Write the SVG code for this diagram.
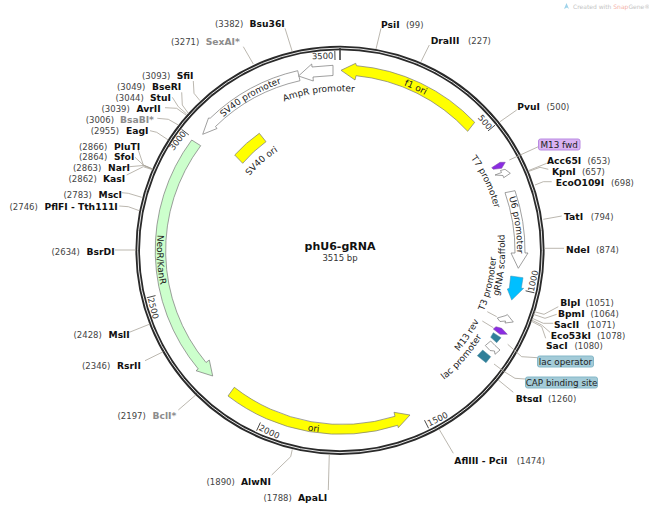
<svg xmlns="http://www.w3.org/2000/svg" width="649" height="509" viewBox="0 0 649 509">
<style>
text{font-family:"DejaVu Sans","Liberation Sans",sans-serif;font-size:9px;fill:#222}
.n{fill:#444;font-size:8.5px}
.b{font-weight:bold;font-size:9.2px;fill:#111}
.g{font-weight:bold;font-size:9.2px;fill:#8c8c8c}
.t{font-size:8.5px;fill:#333;text-anchor:middle}
.f{stroke:#777;stroke-width:.7}
.w{fill:#fff}
.y{fill:#ffff00}
.gr{fill:#ccffcc}
.p{fill:#8a2be2;stroke:#7a4ba0;stroke-width:.5}
.c{fill:#2f7f99;stroke:#4a8aa0;stroke-width:.5}
.l{fill:none;stroke:#aaa49a;stroke-width:.8}
.k{fill:none;stroke:#333;stroke-width:.9}
.fb{text-anchor:middle;font-size:8.8px;fill:#222}
.lp{fill:#d9b3f2;stroke:#b98ae2;stroke-width:1}
.lt{fill:#a3cbd8;stroke:#86b8c8;stroke-width:1}
</style>
<defs>
<path id="a177" d="M186.700 161.800A177 177 0 0 1 493.300 161.800"/>
<path id="a159" d="M202.300 170.800A159 159 0 0 1 477.700 170.800"/>
<path id="a117" d="M238.700 191.800A117 117 0 0 1 441.300 191.800"/>
<path id="a160" d="M201.400 170.300A160 160 0 0 1 478.600 170.300"/>
<path id="b183" d="M181.500 341.800A183 183 0 0 0 498.500 341.800"/>
<path id="b165" d="M197.100 332.800A165 165 0 0 0 482.900 332.800"/>
<path id="b156" d="M204.900 328.300A156 156 0 0 0 475.100 328.300"/>
<path id="b166" d="M196.200 333.300A166 166 0 0 0 483.800 333.300"/>
</defs>

<g id="credit">
<path d="M564 9L566.500 3L569 9L567 7.500Z" fill="#9fd3ea"/>
<text x="573" y="8.500" style="font-size:6px;fill:#c4c4c4">Created with <tspan fill="#f4b0a8">Snap</tspan>Gene®</text>
</g>

<g id="backbone">
<circle cx="340" cy="250.300" r="202.300" fill="none" stroke="#2a2a2a" stroke-width="4.600"/>
<circle cx="340" cy="250.300" r="202.300" fill="none" stroke="#fff" stroke-width=".9"/>
<g class="k">
<path d="M488 130.900L495 125.200M525.600 290.800L534.400 292.800M424.500 420.200L428.600 428.300M260.400 422.500L256.600 430.700M155.500 295.600L146.800 297.800M188.800 134.900L181.600 129.400M335 60L334.800 51"/>
</g>
<path d="M340 48V60" stroke="#333" stroke-width="1.500"/>
<text class="t" transform="translate(482.700,124) rotate(51.200)">500</text>
<text class="t" transform="translate(536,281.500) rotate(-77.600)">1000</text>
<text class="t" transform="translate(439,421.700) rotate(-26.400)">1500</text>
<text class="t" transform="translate(268,434.400) rotate(24.800)">2000</text>
<text class="t" transform="translate(150.400,309) rotate(76.100)">2500</text>
<text class="t" transform="translate(180,142.500) rotate(-52.700)">3000</text>
<text class="t" transform="translate(322.700,59) rotate(-1.500)">3500</text>
</g>

<g id="connectors">
<path class="l" d="M285 28.300L292.300 51.700"/>
<path class="l" d="M243.300 46.700L253.300 64"/>
<path class="l" d="M193.300 81L194 93.300L200 100.700"/>
<path class="l" d="M181.700 92.300L182.300 105L188.300 113.300"/>
<path class="l" d="M172.300 97.300L178.300 106.700L186.700 114"/>
<path class="l" d="M165 107.700L176.700 108.300L186 115"/>
<path class="l" d="M157.300 118.300L168.300 119.300L178.300 125"/>
<path class="l" d="M150 130.700L156.700 132.300L168.300 140"/>
<path class="l" d="M138.300 150L143.300 165L152.700 169"/>
<path class="l" d="M135 157.300L143.300 165L152.300 169"/>
<path class="l" d="M129.300 166.700L143.300 165.500L152.300 169"/>
<path class="l" d="M126.700 175L143.300 166.700L152 169.500"/>
<path class="l" d="M121.700 192.700L128.300 193.300L141.700 197.300"/>
<path class="l" d="M119.300 206L128.300 206.700L139.300 210.700"/>
<path class="l" d="M115 250H136"/>
<path class="l" d="M129.300 332.300L150 324"/>
<path class="l" d="M145 360.700L163.300 351.700"/>
<path class="l" d="M178.300 410L195.700 395"/>
<path class="l" d="M271.700 475L290.700 456.700L292.300 449.300"/>
<path class="l" d="M328.300 490L329.300 454"/>
<path class="l" d="M381 28.300L376 49"/>
<path class="l" d="M429.300 45L421 61.700"/>
<path class="l" d="M516.700 110L500 121.700"/>
<path class="l" d="M538.300 146.700L509.300 160"/>
<path class="l" d="M546.700 163.300L528.300 170.700"/>
<path class="l" d="M548.300 169.300L540 167.300L529 171.300"/>
<path class="l" d="M551.700 181.700H543.300L535 185"/>
<path class="l" d="M561.700 216L543.300 219.300"/>
<path class="l" d="M564 248.300H544.300"/>
<path class="l" d="M558.300 306.700L544 314.300L534.300 311.700"/>
<path class="l" d="M556.700 314.300L545 318.300L533.300 314.300"/>
<path class="l" d="M553.300 323.300H543.300L532.300 318.300"/>
<path class="l" d="M550 332.300L541.700 325L531.700 320"/>
<path class="l" d="M545.700 338.300L541.700 326.700L531 321"/>
<path class="l" d="M537.300 357.700L521.700 356.700L507.700 344.300"/>
<path class="l" d="M525.300 379L515 378.300L504.300 371.700L494 364"/>
<path class="l" d="M513.300 392.300L498.300 380"/>
<path class="l" d="M453.300 453.300L439 429"/>
<path class="l" d="M487.300 311.700L496.700 316.700"/>
<path class="l" d="M482.300 321L493.300 327.700"/>
</g>

<g id="f1-ori">
<path class="y f" d="M474.700 122.300A185 185 0 0 0 356.500 65.700L355.700 63.300L341 70.300L355 80L356 75.700A175 175 0 0 1 467.700 131.300Z"/>
<text transform="rotate(24.900 340 250.300)"><textPath href="#a177" startOffset="50%" text-anchor="middle">f1 ori</textPath></text>
</g>
<g id="SV40-ori">
<path class="y f" d="M259.300 133.300L266 141.700A131 131 0 0 0 242.700 163.300L234.700 155A142 142 0 0 1 259.300 133.300Z"/>
<text transform="rotate(-41.300 340 250.300)"><textPath href="#a117" startOffset="50%" text-anchor="middle">SV40 ori</textPath></text>
</g>
<g id="NeoR-KanR">
<path class="gr f" d="M191.700 140L200.700 145.700A175 175 0 0 0 206 362.500L209.300 360L212.700 376L196 370.700L198.300 369A185 185 0 0 1 191.700 140Z"/>
<text transform="rotate(87 340 250.300)"><textPath href="#b183" startOffset="50%" text-anchor="middle">NeoR/KanR</textPath></text>
</g>
<g id="ori">
<path class="y f" d="M234.300 387.300L228 396A185 185 0 0 0 397.700 425.300L398.300 427.700L410 415L394 412.300L395 416.300A175 175 0 0 1 234.300 387.300Z"/>
<text transform="rotate(8.400 340 250.300)"><textPath href="#b183" startOffset="50%" text-anchor="middle">ori</textPath></text>
</g>
<g id="SV40-promoter">
<path class="w f" d="M297.700 70.700L300 80.700A175 175 0 0 0 215.500 126.500L217 128.500L202.700 134.300L208.500 118L210.200 118.200A185 185 0 0 1 297.700 70.700Z"/>
<text transform="rotate(-30.300 340 250.300)"><textPath href="#a177" startOffset="50%" text-anchor="middle">SV40 promoter</textPath></text>
</g>
<g id="AmpR-promoter">
<path class="w f" d="M333 65.300V75.500L313 77L313.300 81L298.500 76L311.700 64L312 67Z"/>
<text transform="rotate(-7.700 340 250.300)"><textPath href="#a159" startOffset="50%" text-anchor="middle">AmpR promoter</textPath></text>
</g>
<g id="U6-promoter">
<path class="w f" d="M505 192.700L515 190.700A185 185 0 0 1 525 253H528L518.300 268.300L511 253H515A175 175 0 0 0 505 192.700Z"/>
<text transform="rotate(81.800 340 250.300)"><textPath href="#a177" startOffset="50%" text-anchor="middle">U6 promoter</textPath></text>
</g>
<g id="gRNA-scaffold">
<path fill="#00bfff" stroke="#3a8fb0" stroke-width=".5" d="M510.700 276L523 277.700L521.300 288.300L523.700 288.300L511.700 300L507.300 289L509.300 288.300Z"/>
<text transform="rotate(-84.700 340 250.300)"><textPath href="#b165" startOffset="50%" text-anchor="middle">gRNA scaffold</textPath></text>
</g>
<g id="T7-promoter">
<path class="w f" d="M495 175L501.500 172.500L500.500 170.500L505 169.300L510.300 173.300L503.700 177.700L503 175.500Z"/>
<text transform="rotate(64.800 340 250.300)"><textPath href="#a160" startOffset="50%" text-anchor="middle">T7 promoter</textPath></text>
</g>
<g id="M13-fwd">
<path class="p" d="M491.700 167.700L500 162.300L505.300 162.300L501.700 168.300L493.300 169.300Z"/>
<rect class="lp" x="538.500" y="139" width="41.500" height="11" rx="2"/>
<text class="fb" x="559.200" y="147.700">M13 fwd</text>
</g>
<g id="T3-promoter">
<path class="w f" d="M497.300 318L506 315.500L507.300 314.500L513.300 322L505 323L505.500 321L500 321.500Z"/>
<text transform="rotate(-77.300 340 250.300)"><textPath href="#b156" startOffset="50%" text-anchor="middle">T3 promoter</textPath></text>
</g>
<g id="M13-rev">
<path class="p" d="M493.300 329L496 326.700L501.700 328.300L507.300 334.300L500 334.300Z"/>
<text transform="rotate(-56.300 340 250.300)"><textPath href="#b156" startOffset="50%" text-anchor="middle">M13 rev</textPath></text>
</g>
<g id="lac-operator">
<path class="c" d="M493.300 332.700L501 337.700L496.700 342.700L490.700 337.300Z"/>
<rect class="lt" x="537.500" y="356" width="56" height="11" rx="2"/>
<text class="fb" x="565.500" y="364.700">lac operator</text>
</g>
<g id="lac-promoter">
<path class="w f" d="M485.300 345.500L490.700 341L495 345.500L500 350L495 354.300L494.500 351L490 350.500Z"/>
<text transform="rotate(-48.700 340 250.300)"><textPath href="#b166" startOffset="50%" text-anchor="middle">lac promoter</textPath></text>
</g>
<g id="CAP-binding-site">
<path class="c" d="M482.700 350L490.700 356.700L486 362.700L477.300 355.700Z"/>
<rect class="lt" x="525.500" y="377" width="72" height="11" rx="2"/>
<text class="fb" x="561.500" y="385.700">CAP binding site</text>
</g>

<g id="title">
<text x="340" y="250" text-anchor="middle" style="font-weight:bold;font-size:11px;fill:#111">phU6-gRNA</text>
<text x="340" y="261" text-anchor="middle" style="font-size:8.500px;fill:#333">3515 bp</text>
</g>

<g id="sites">
<g id="Bsu36I"><text class="n" x="215" y="27">(3382)</text><text class="b" x="249.500" y="27">Bsu36I</text></g>
<g id="SexAI"><text class="n" x="171" y="45">(3271)</text><text class="g" x="205.700" y="45">SexAI*</text></g>
<g id="SfiI"><text class="n" x="142" y="79">(3093)</text><text class="b" x="176.700" y="79">SfiI</text></g>
<g id="BseRI"><text class="n" x="117" y="90">(3049)</text><text class="b" x="152" y="90">BseRI</text></g>
<g id="StuI"><text class="n" x="115.500" y="101">(3044)</text><text class="b" x="150" y="101">StuI</text></g>
<g id="AvrII"><text class="n" x="101.500" y="112">(3039)</text><text class="b" x="136.500" y="112">AvrII</text></g>
<g id="BsaBI"><text class="n" x="85.700" y="123">(3006)</text><text class="g" x="120" y="123">BsaBI*</text></g>
<g id="EagI"><text class="n" x="90.700" y="133.500">(2955)</text><text class="b" x="126" y="133.500">EagI</text></g>
<g id="PluTI"><text class="n" x="79" y="149.500">(2866)</text><text class="b" x="114" y="149.500">PluTI</text></g>
<g id="SfoI"><text class="n" x="79" y="160">(2864)</text><text class="b" x="114" y="160">SfoI</text></g>
<g id="NarI"><text class="n" x="73" y="171">(2863)</text><text class="b" x="108" y="171">NarI</text></g>
<g id="KasI"><text class="n" x="68.500" y="182">(2862)</text><text class="b" x="103" y="182">KasI</text></g>
<g id="MscI"><text class="n" x="63.500" y="198">(2783)</text><text class="b" x="98.500" y="198">MscI</text></g>
<g id="PflFI-Tth111I"><text class="n" x="9.500" y="210">(2746)</text><text class="b" x="44.500" y="210">PflFI - Tth111I</text></g>
<g id="BsrDI"><text class="n" x="51.500" y="255">(2634)</text><text class="b" x="86.500" y="255">BsrDI</text></g>
<g id="MslI"><text class="n" x="73.500" y="337.500">(2428)</text><text class="b" x="108.500" y="337.500">MslI</text></g>
<g id="RsrII"><text class="n" x="82" y="368.500">(2346)</text><text class="b" x="117" y="368.500">RsrII</text></g>
<g id="BclI"><text class="n" x="117.500" y="419">(2197)</text><text class="g" x="152.500" y="419">BclI*</text></g>
<g id="AlwNI"><text class="n" x="206.500" y="485">(1890)</text><text class="b" x="241" y="485">AlwNI</text></g>
<g id="ApaLI"><text class="n" x="263.500" y="501">(1788)</text><text class="b" x="298" y="501">ApaLI</text></g>
<g id="PsiI"><text class="b" x="381" y="27.500">PsiI</text><text class="n" x="406" y="27.500">(99)</text></g>
<g id="DraIII"><text class="b" x="430.700" y="44">DraIII</text><text class="n" x="468" y="44">(227)</text></g>
<g id="PvuI"><text class="b" x="517.300" y="109.500">PvuI</text><text class="n" x="546.500" y="109.500">(500)</text></g>
<g id="Acc65I"><text class="b" x="547" y="164">Acc65I</text><text class="n" x="587.500" y="164">(653)</text></g>
<g id="KpnI"><text class="b" x="552" y="174.500">KpnI</text><text class="n" x="582" y="174.500">(657)</text></g>
<g id="EcoO109I"><text class="b" x="555.700" y="185.500">EcoO109I</text><text class="n" x="611" y="185.500">(698)</text></g>
<g id="TatI"><text class="b" x="564" y="220">TatI</text><text class="n" x="590.700" y="220">(794)</text></g>
<g id="NdeI"><text class="b" x="566" y="253">NdeI</text><text class="n" x="596" y="253">(874)</text></g>
<g id="BlpI"><text class="b" x="560.300" y="306">BlpI</text><text class="n" x="585.500" y="306">(1051)</text></g>
<g id="BpmI"><text class="b" x="558" y="317">BpmI</text><text class="n" x="590.500" y="317">(1064)</text></g>
<g id="SacII"><text class="b" x="554" y="327.500">SacII</text><text class="n" x="587" y="327.500">(1071)</text></g>
<g id="Eco53kI"><text class="b" x="550.700" y="338.500">Eco53kI</text><text class="n" x="597" y="338.500">(1078)</text></g>
<g id="SacI"><text class="b" x="546" y="349">SacI</text><text class="n" x="574.500" y="349">(1080)</text></g>
<g id="BtsaI"><text class="b" x="515.700" y="402">BtsαI</text><text class="n" x="548" y="402">(1260)</text></g>
<g id="AflIII-PciI"><text class="b" x="454.300" y="464">AflIII - PciI</text><text class="n" x="516.700" y="464">(1474)</text></g>
</g>
</svg>
